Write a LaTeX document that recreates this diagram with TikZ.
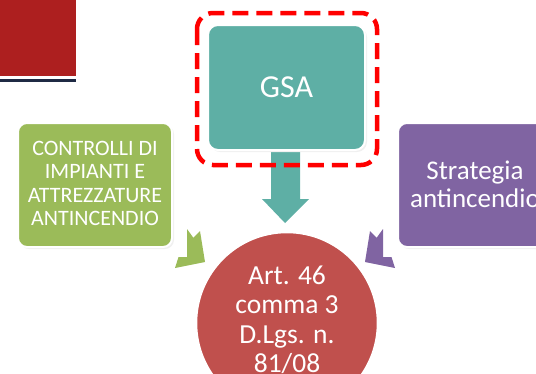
\documentclass[tikz,border=0pt]{standalone}
\usepackage{fontspec}
\setmainfont{Carlito}
\definecolor{topred}{RGB}{173,31,31}
\definecolor{navy}{RGB}{31,42,68}
\definecolor{teal1}{RGB}{94,175,165}
\definecolor{green1}{RGB}{155,187,89}
\definecolor{purple1}{RGB}{128,100,162}
\definecolor{circred}{RGB}{192,80,77}
\begin{document}
\begin{tikzpicture}[x=1pt,y=-1pt,
  boxst/.style={draw=white,line width=2pt,rounded corners=9pt},
  txt/.style={text=white,align=center,inner sep=0pt}]
\useasboundingbox (0,0) rectangle (536,373);
\clip (0,0) rectangle (536,373);
% top-left decoration
\fill[topred] (0,0) rectangle (76,76);
\fill[navy] (0,79) rectangle (76,81.5);
% arrows
\fill[teal1] (271,150) -- (300,150) -- (300,199) -- (309,199) -- (285,223) -- (262,199) -- (271,199) -- cycle;
\fill[green1] (187,229) -- (193.3,237.7) -- (200,231) -- (205,262) -- (175,268) -- (178.5,257) -- (187,257) -- cycle;
\fill[purple1] (383,229) -- (376.7,237.7) -- (370,231) -- (365,262) -- (395,268) -- (391.5,257) -- (383,257) -- cycle;
% circle
\fill[circred,draw=white,line width=2.5pt] (287,323) circle (91);
\node[txt,font=\fontsize{27.5}{29.5}\selectfont] (art) at (287,320) {Art. 46\\comma 3\\D.Lgs. n.\\81/08};
% boxes
\fill[black!6,rounded corners=9pt] (20,125) rectangle (174,249);
\filldraw[boxst,fill=green1] (18,123) rectangle (172,247);
\node[txt,font=\fontsize{22}{23.5}\selectfont] (ctrl) at (95,183.5) {CONTROLLI DI\\IMPIANTI E\\ATTREZZATURE\\ANTINCENDIO};
\fill[black!6,rounded corners=9pt] (400,125) rectangle (555,249);
\filldraw[boxst,fill=purple1] (398,123) rectangle (552,247);
\node[txt,font=\fontsize{27}{28}\selectfont] (strat) at (475,184) {Strategia\\antincendio};
\fill[black!6,rounded corners=10pt] (210,27) rectangle (367,152);
\filldraw[boxst,fill=teal1,rounded corners=10pt] (208,25) rectangle (365,150);
\node[txt,font=\fontsize{32}{34}\selectfont] (gsa) at (286.5,87.5) {GSA};
% dashed red outline
\draw[red,line width=4.5pt,dash pattern=on 16pt off 8pt,rounded corners=16pt] (197,13) rectangle (377,165);
\end{tikzpicture}
\end{document}
